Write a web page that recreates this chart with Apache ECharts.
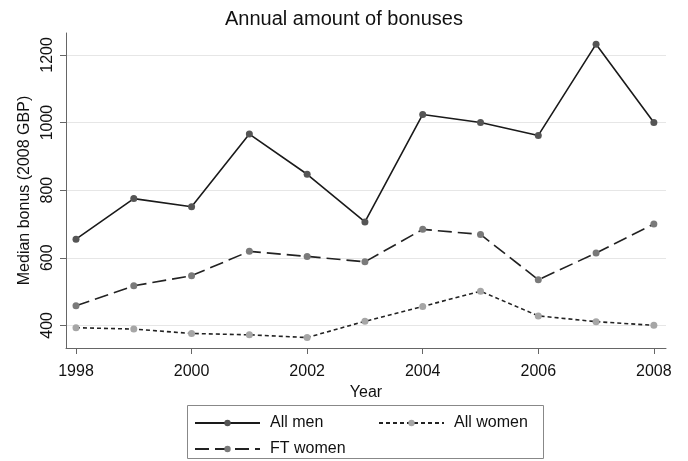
<!DOCTYPE html>
<html>
<head>
<meta charset="utf-8">
<script src="https://cdn.jsdelivr.net/npm/echarts@6/dist/echarts.min.js"></script>
<style>
html,body{margin:0;padding:0;background:#fff;}
#chart{width:688px;height:461px;}
</style>
</head>
<body>
<div id="chart"></div>
<script>
var years = [1998, 1999, 2000, 2001, 2002, 2003, 2004, 2005, 2006, 2007, 2008];
var allMen = [655, 775, 751, 966, 847, 706, 1024, 1000, 962, 1232, 1000];
var ftWomen = [458, 517, 547, 619, 604, 588, 684, 669, 535, 614, 700];
var allWomen = [393, 389, 376, 372, 364, 412, 456, 501, 428, 411, 400];
var xTicks = [1998, 2000, 2002, 2004, 2006, 2008];
var yTicks = [400, 600, 800, 1000, 1200];

function pairs(vals) {
  return years.map(function (y, i) { return [y, vals[i]]; });
}

var FONT = 'Liberation Sans, Arial, sans-serif';
function legendFor(name, left, top) {
  return {
    data: [name],
    orient: 'horizontal',
    left: left,
    top: top,
    itemWidth: 65,
    itemHeight: 8,
    textStyle: { fontFamily: FONT, fontSize: 16, color: '#111', padding: [0, 0, 0, 5] }
  };
}
var chart = echarts.init(document.getElementById('chart'));
chart.setOption({
  animation: false,
  backgroundColor: '#ffffff',
  title: {
    text: 'Annual amount of bonuses',
    left: 'center',
    top: 4,
    textStyle: { fontFamily: FONT, fontSize: 20, fontWeight: 'normal', color: '#111' }
  },
  grid: { left: 66, right: 22, top: 33, bottom: 113, containLabel: false },
  xAxis: {
    type: 'value',
    min: 1997.827,
    max: 2008.21,
    name: 'Year',
    nameLocation: 'middle',
    nameGap: 22,
    nameTextStyle: { fontFamily: FONT, fontSize: 16, color: '#111' },
    axisLine: { show: true, onZero: false, lineStyle: { color: '#666', width: 1 } },
    axisTick: { show: true, customValues: xTicks, length: 6, lineStyle: { color: '#666' } },
    axisLabel: { customValues: xTicks, formatter: function (v) { return String(v); }, fontFamily: FONT, fontSize: 16, color: '#111', margin: 16 },
    splitLine: { show: false }
  },
  yAxis: {
    type: 'value',
    min: 333,
    max: 1265,
    name: 'Median bonus (2008 GBP)',
    nameLocation: 'middle',
    nameRotate: 90,
    nameGap: 25,
    nameTextStyle: { fontFamily: FONT, fontSize: 16, color: '#111' },
    axisLine: { show: true, onZero: false, lineStyle: { color: '#666', width: 1 } },
    axisTick: { show: true, customValues: yTicks, length: 6, lineStyle: { color: '#666' } },
    axisLabel: { customValues: yTicks, formatter: function (v) { return String(v); }, rotate: 90, fontFamily: FONT, fontSize: 16, color: '#111', margin: 10 },
    splitLine: { show: true, lineStyle: { color: '#e6e6e6', width: 1.2 } }
  },
  legend: [
    legendFor('All men', 189, 410),
    legendFor('FT women', 189, 436),
    legendFor('All women', 373, 410)
  ],
  graphic: [
    {
      type: 'rect',
      shape: { x: 187.5, y: 405.5, width: 356, height: 53 },
      style: { fill: 'none', stroke: '#888', lineWidth: 1 },
      silent: true
    }
  ],
  series: [
    {
      name: 'All men',
      type: 'line',
      data: pairs(allMen),
      symbol: 'circle',
      symbolSize: 7,
      lineStyle: { color: '#1a1a1a', width: 1.6, type: 'solid' },
      itemStyle: { color: '#555555' }
    },
    {
      name: 'FT women',
      type: 'line',
      data: pairs(ftWomen),
      symbol: 'circle',
      symbolSize: 7,
      lineStyle: { color: '#222222', width: 1.6, type: [14, 6] },
      itemStyle: { color: '#7a7a7a' }
    },
    {
      name: 'All women',
      type: 'line',
      data: pairs(allWomen),
      symbol: 'circle',
      symbolSize: 7,
      lineStyle: { color: '#222222', width: 1.6, type: [4, 3] },
      itemStyle: { color: '#a6a6a6' }
    }
  ]
});
</script>
</body>
</html>
